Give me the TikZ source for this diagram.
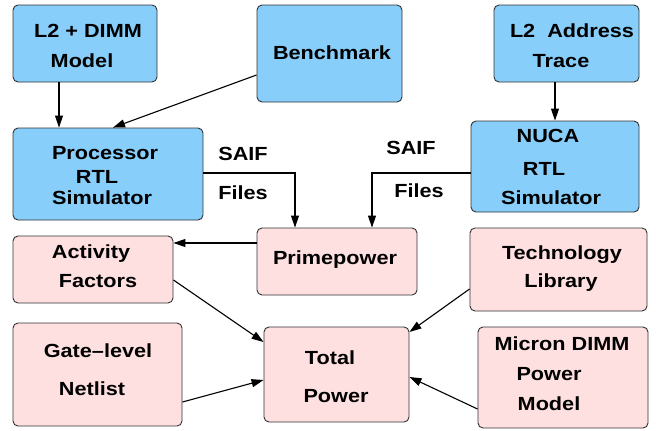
\documentclass[tikz,border=0pt]{standalone}
\usepackage{fontspec}
\setmainfont{Liberation Sans}[FakeStretch=1.14]
\usetikzlibrary{arrows.meta}
\definecolor{boxblue}{RGB}{135,206,250}
\definecolor{boxpink}{RGB}{255,224,224}
\definecolor{edge}{RGB}{50,50,50}
\tikzset{
  box/.style={draw=edge, line width=0.9pt, rounded corners=5pt, inner sep=0pt, rectangle},
  bluebox/.style={box, fill=boxblue},
  pinkbox/.style={box, fill=boxpink},
  txt/.style={anchor=base, inner sep=0pt, font=\fontsize{19}{19}\selectfont\bfseries},
  arr/.style={line width=1.1pt, -{Triangle[length=12pt,width=8pt]}}
}
\newcommand{\mkbox}[6]{%
  \node[#1, minimum width={#4-#2}, minimum height={#5-#3}] (#6) at ({(#2+#4)/2},{(#3+#5)/2}) {};}
\begin{document}
\begin{tikzpicture}[x=1pt,y=-1pt]
\useasboundingbox (0,0) rectangle (656,431);
% boxes
\mkbox{bluebox}{13}{5}{157}{82}{l2dimm}
\mkbox{bluebox}{257}{5}{402}{102}{bench}
\mkbox{bluebox}{494}{5}{639}{82}{l2addr}
\mkbox{bluebox}{13}{128}{203}{220}{proc}
\mkbox{bluebox}{471}{121}{639}{212}{nuca}
\mkbox{pinkbox}{257}{228}{417}{295}{prime}
\mkbox{pinkbox}{13}{236}{173}{303}{act}
\mkbox{pinkbox}{13}{323}{182}{426}{gate}
\mkbox{pinkbox}{264}{327}{409}{422}{total}
\mkbox{pinkbox}{470}{228}{647}{311}{tech}
\mkbox{pinkbox}{478}{327}{648}{428}{micron}
% texts
\node[txt] (t1a) at (88,37) {L2 + DIMM};
\node[txt] (t1b) at (82,67) {Model};
\node[txt] (t2) at (332,59) {Benchmark};
\node[txt] (t3a) at (572,37) {L2\ \ Address};
\node[txt] (t3b) at (561,67) {Trace};
\node[txt] (t4a) at (105,159) {Processor};
\node[txt] (t4b) at (97,183) {RTL};
\node[txt] (t4c) at (102,204) {Simulator};
\node[txt] (t5a) at (548,142) {NUCA};
\node[txt] (t5b) at (544,175) {RTL};
\node[txt] (t5c) at (551,204) {Simulator};
\node[txt] (t6) at (335,264) {Primepower};
\node[txt] (t7a) at (91,258) {Activity};
\node[txt] (t7b) at (98,287) {Factors};
\node[txt] (t8a) at (98,357) {Gate--level};
\node[txt] (t8b) at (92,395) {Netlist};
\node[txt] (t9a) at (330,364) {Total};
\node[txt] (t9b) at (336,402) {Power};
\node[txt] (t10a) at (562,259) {Technology};
\node[txt] (t10b) at (561,287) {Library};
\node[txt] (t11a) at (562,350) {Micron DIMM};
\node[txt] (t11b) at (549,380) {Power};
\node[txt] (t11c) at (549,410) {Model};
\node[txt] (s1) at (243,160) {SAIF};
\node[txt] (f1) at (243,199) {Files};
\node[txt] (s2) at (411,154) {SAIF};
\node[txt] (f2) at (419,197) {Files};
% arrows
\draw[arr] ([xshift=-26pt]l2dimm.south) -- ([xshift=-26pt]l2dimm.south |- proc.north);
\draw[arr] ([yshift=-21.5pt]bench.west) -- ([xshift=5pt]proc.north);
\draw[arr] ([xshift=-11.5pt]l2addr.south) -- ([xshift=-11.5pt]l2addr.south |- nuca.north);
\draw[arr] ([yshift=1pt]proc.east) -| ([xshift=-42pt]prime.north);
\draw[arr] ([yshift=-6.5pt]nuca.west) -| ([xshift=35pt]prime.north);
\draw[arr] ([yshift=18.5pt]prime.west) -- ([yshift=18.5pt]prime.west -| act.east);
\draw[arr] ([yshift=-10.5pt]act.east) -- ([yshift=32.5pt]total.west);
\draw[arr] ([yshift=-19.5pt]tech.west) -- ([yshift=42.5pt]total.east);
\draw[arr] ([yshift=-27.5pt]gate.east) -- ([yshift=-5.5pt]total.west);
\draw[arr] ([yshift=-31.5pt]micron.west) -- ([yshift=-2.5pt]total.east);
\end{tikzpicture}
\end{document}
